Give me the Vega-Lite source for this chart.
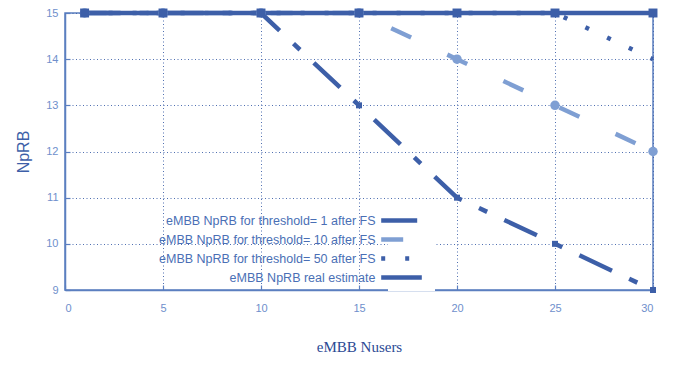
{
  "$schema": "https://vega.github.io/schema/vega-lite/v6.json",
  "width": 588,
  "height": 277,
  "autosize": "none",
  "padding": {"left": 65, "top": 13, "right": 23, "bottom": 75},
  "background": "white",
  "config": {
    "view": {"stroke": "#5b7fc0", "strokeWidth": 1.5},
    "font": "Liberation Sans"
  },
  "data": {
    "values": [
      {"users": 1, "NpRB": 15, "series": "eMBB NpRB for threshold= 1 after FS"},
      {"users": 5, "NpRB": 15, "series": "eMBB NpRB for threshold= 1 after FS"},
      {"users": 10, "NpRB": 15, "series": "eMBB NpRB for threshold= 1 after FS"},
      {"users": 15, "NpRB": 13, "series": "eMBB NpRB for threshold= 1 after FS"},
      {"users": 20, "NpRB": 11, "series": "eMBB NpRB for threshold= 1 after FS"},
      {"users": 25, "NpRB": 10, "series": "eMBB NpRB for threshold= 1 after FS"},
      {"users": 30, "NpRB": 9, "series": "eMBB NpRB for threshold= 1 after FS"},
      {"users": 1, "NpRB": 15, "series": "eMBB NpRB for threshold= 10 after FS"},
      {"users": 5, "NpRB": 15, "series": "eMBB NpRB for threshold= 10 after FS"},
      {"users": 10, "NpRB": 15, "series": "eMBB NpRB for threshold= 10 after FS"},
      {"users": 15, "NpRB": 15, "series": "eMBB NpRB for threshold= 10 after FS"},
      {"users": 20, "NpRB": 14, "series": "eMBB NpRB for threshold= 10 after FS"},
      {"users": 25, "NpRB": 13, "series": "eMBB NpRB for threshold= 10 after FS"},
      {"users": 30, "NpRB": 12, "series": "eMBB NpRB for threshold= 10 after FS"},
      {"users": 1, "NpRB": 15, "series": "eMBB NpRB for threshold= 50 after FS"},
      {"users": 5, "NpRB": 15, "series": "eMBB NpRB for threshold= 50 after FS"},
      {"users": 10, "NpRB": 15, "series": "eMBB NpRB for threshold= 50 after FS"},
      {"users": 15, "NpRB": 15, "series": "eMBB NpRB for threshold= 50 after FS"},
      {"users": 20, "NpRB": 15, "series": "eMBB NpRB for threshold= 50 after FS"},
      {"users": 25, "NpRB": 15, "series": "eMBB NpRB for threshold= 50 after FS"},
      {"users": 30, "NpRB": 14, "series": "eMBB NpRB for threshold= 50 after FS"},
      {"users": 1, "NpRB": 15, "series": "eMBB NpRB real estimate"},
      {"users": 5, "NpRB": 15, "series": "eMBB NpRB real estimate"},
      {"users": 10, "NpRB": 15, "series": "eMBB NpRB real estimate"},
      {"users": 15, "NpRB": 15, "series": "eMBB NpRB real estimate"},
      {"users": 20, "NpRB": 15, "series": "eMBB NpRB real estimate"},
      {"users": 25, "NpRB": 15, "series": "eMBB NpRB real estimate"},
      {"users": 30, "NpRB": 15, "series": "eMBB NpRB real estimate"}
    ]
  },
  "encoding": {
    "x": {
      "field": "users", "type": "quantitative",
      "scale": {"domain": [0, 30], "nice": false},
      "axis": {
        "title": "eMBB Nusers", "values": [0, 5, 10, 15, 20, 25, 30],
        "titleFont": "Liberation Serif", "titleFontSize": 15, "titleFontWeight": "normal",
        "titleColor": "#2b4a94", "titlePadding": 26,
        "labelColor": "#6f8fcc", "labelFontSize": 11, "labelPadding": 17,
        "domainColor": "#5b7fc0", "domainWidth": 1.5,
        "tickColor": "#5b7fc0", "tickSize": -5, "tickWidth": 1.2,
        "gridColor": "#3d5fa8", "gridDash": [1, 2.5], "gridWidth": 1, "gridOpacity": 0.9
      }
    },
    "y": {
      "field": "NpRB", "type": "quantitative",
      "scale": {"domain": [9, 15], "nice": false, "zero": false},
      "axis": {
        "title": "NpRB", "values": [9, 10, 11, 12, 13, 14, 15],
        "titleFont": "Liberation Sans", "titleFontSize": 16, "titleFontWeight": "normal",
        "titleColor": "#3d5fa8", "titlePadding": 14,
        "labelColor": "#6f8fcc", "labelFontSize": 11, "labelPadding": 12,
        "domainColor": "#5b7fc0", "domainWidth": 1.5,
        "tickColor": "#5b7fc0", "tickSize": -5, "tickWidth": 1.2,
        "gridColor": "#3d5fa8", "gridDash": [1, 2.5], "gridWidth": 1, "gridOpacity": 0.9
      }
    }
  },
  "layer": [
    {
      "mark": {"type": "line", "strokeCap": "butt"},
      "encoding": {
        "color": {
          "field": "series", "type": "nominal",
          "scale": {
            "domain": ["eMBB NpRB for threshold= 1 after FS", "eMBB NpRB for threshold= 10 after FS", "eMBB NpRB for threshold= 50 after FS", "eMBB NpRB real estimate"],
            "range": ["#3d5fa8", "#7f9fd3", "#3d5fa8", "#3d5fa8"]
          },
          "legend": {
            "title": null, "orient": "none", "legendX": 323, "legendY": 194,
            "symbolType": "M-2.9,0H2.9", "symbolSize": 196,
            "labelAlign": "right", "labelOffset": -35.5,
            "labelFont": "Liberation Sans", "labelFontSize": 12.5, "labelColor": "#4a6fb5",
            "labelLimit": 400, "rowPadding": 0, "fillColor": "white", "padding": 4
          }
        },
        "strokeDash": {
          "field": "series", "type": "nominal",
          "scale": {
            "domain": ["eMBB NpRB for threshold= 1 after FS", "eMBB NpRB for threshold= 10 after FS", "eMBB NpRB for threshold= 50 after FS", "eMBB NpRB real estimate"],
            "range": [[36, 19, 9, 19], [22, 40], [4, 20], [1, 0]]
          }
        },
        "strokeWidth": {
          "field": "series", "type": "nominal",
          "scale": {
            "domain": ["eMBB NpRB for threshold= 1 after FS", "eMBB NpRB for threshold= 10 after FS", "eMBB NpRB for threshold= 50 after FS", "eMBB NpRB real estimate"],
            "range": [4.5, 4.5, 4.5, 4]
          }
        }
      }
    },
    {
      "transform": [{"filter": "datum.series === 'eMBB NpRB for threshold= 1 after FS'"}],
      "mark": {"type": "point", "filled": true, "opacity": 1, "shape": "square", "size": 36, "color": "#3d5fa8"}
    },
    {
      "transform": [{"filter": "datum.series === 'eMBB NpRB for threshold= 10 after FS'"}],
      "mark": {"type": "point", "filled": true, "opacity": 1, "shape": "circle", "size": 90, "color": "#7f9fd3"}
    },
    {
      "transform": [{"filter": "datum.series === 'eMBB NpRB real estimate'"}],
      "mark": {"type": "point", "filled": true, "opacity": 1, "shape": "square", "size": 80, "color": "#3d5fa8"}
    }
  ]
}
